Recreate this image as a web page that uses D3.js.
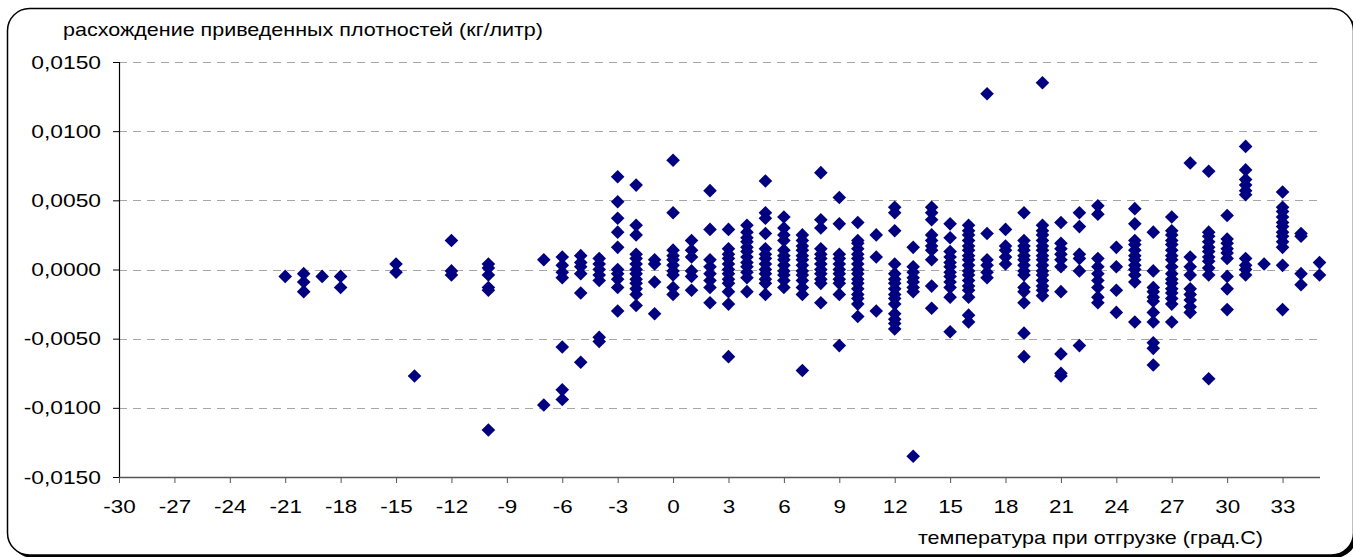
<!DOCTYPE html>
<html>
<head>
<meta charset="utf-8">
<script src="https://cdn.jsdelivr.net/npm/d3@7"></script>
<style>
  body { margin: 0; background: #fff; }
  svg text { font-family: Arial, "Liberation Sans", sans-serif; fill: #000; }
</style>
</head>
<body>
<div id="chart"></div>
<script>
// температура при отгрузке (град.С)
const temps = [-21, -20, -19, -18, -15, -14, -12, -10, -7, -6, -5, -4, -3, -2, -1,
  0, 1, 2, 3, 4, 5, 6, 7, 8, 9, 10, 11, 12, 13, 14, 15, 16, 17, 18, 19, 20,
  21, 22, 23, 24, 25, 26, 27, 28, 29, 30, 31, 32, 33, 34, 35];

// расхождение приведенных плотностей (кг/литр), по столбцам температур
const diffs = [
  [-0.0005],
  [-0.0003, -0.0009, -0.0016],
  [-0.0005],
  [-0.0005, -0.0013],
  [0.0004, -0.0002],
  [-0.0077],
  [0.0021, -0.0001, -0.0004],
  [0.0004, 0.0001, -0.0004, -0.0013, -0.0015, -0.0116],
  [0.0007, -0.0098],
  [0.0009, 0.0003, -0.0002, -0.0006, -0.0056, -0.0087, -0.0094],
  [0.0010, 0.0005, 0.0002, -0.0003, -0.0017, -0.0067],
  [0.0008, 0.0004, 0.0000, -0.0004, -0.0008, -0.0049, -0.0052],
  [0.0067, 0.0049, 0.0037, 0.0027, 0.0016, 0.0000, -0.0003, -0.0007, -0.0013, -0.0030],
  [0.0061, 0.0032, 0.0025, 0.0011, 0.0008, 0.0004, 0.0000, -0.0003, -0.0007, -0.0010, -0.0014, -0.0018, -0.0026],
  [0.0007, 0.0004, -0.0009, -0.0032],
  [0.0079, 0.0041, 0.0014, 0.0010, 0.0007, 0.0003, -0.0001, -0.0004, -0.0013, -0.0018],
  [0.0021, 0.0014, 0.0009, -0.0001, -0.0005, -0.0015],
  [0.0057, 0.0029, 0.0007, 0.0002, -0.0003, -0.0008, -0.0013, -0.0024],
  [0.0029, 0.0015, 0.0011, 0.0008, 0.0004, 0.0000, -0.0003, -0.0007, -0.0010, -0.0016, -0.0025, -0.0063],
  [0.0032, 0.0027, 0.0023, 0.0020, 0.0016, 0.0013, 0.0009, 0.0005, 0.0002, -0.0002, -0.0006, -0.0016],
  [0.0064, 0.0041, 0.0037, 0.0026, 0.0015, 0.0011, 0.0008, 0.0004, 0.0000, -0.0003, -0.0007, -0.0010, -0.0018],
  [0.0038, 0.0030, 0.0025, 0.0021, 0.0014, 0.0010, 0.0007, 0.0003, -0.0001, -0.0004, -0.0008, -0.0013],
  [0.0025, 0.0021, 0.0017, 0.0014, 0.0010, 0.0007, 0.0003, -0.0001, -0.0004, -0.0008, -0.0013, -0.0018, -0.0073],
  [0.0070, 0.0036, 0.0030, 0.0015, 0.0011, 0.0008, 0.0004, 0.0000, -0.0003, -0.0007, -0.0010, -0.0024],
  [0.0052, 0.0033, 0.0011, 0.0008, 0.0004, 0.0000, -0.0003, -0.0007, -0.0010, -0.0018, -0.0055],
  [0.0034, 0.0021, 0.0019, 0.0015, 0.0011, 0.0008, 0.0004, 0.0000, -0.0003, -0.0007, -0.0010, -0.0014, -0.0018, -0.0021, -0.0025, -0.0034],
  [0.0025, 0.0009, -0.0030],
  [0.0045, 0.0041, 0.0028, 0.0004, -0.0003, -0.0007, -0.0010, -0.0014, -0.0018, -0.0021, -0.0025, -0.0032, -0.0036, -0.0039, -0.0043],
  [0.0016, 0.0002, -0.0002, -0.0006, -0.0009, -0.0013, -0.0016, -0.0135],
  [0.0045, 0.0041, 0.0036, 0.0025, 0.0021, 0.0017, 0.0014, 0.0007, -0.0012, -0.0028],
  [0.0033, 0.0023, 0.0013, 0.0009, 0.0005, 0.0002, -0.0002, -0.0005, -0.0009, -0.0013, -0.0020, -0.0045],
  [0.0032, 0.0028, 0.0025, 0.0021, 0.0017, 0.0014, 0.0010, 0.0007, 0.0003, -0.0001, -0.0004, -0.0008, -0.0012, -0.0015, -0.0020, -0.0033, -0.0038],
  [0.0127, 0.0026, 0.0007, 0.0003, -0.0002, -0.0006],
  [0.0029, 0.0017, 0.0014, 0.0009, 0.0004],
  [0.0041, 0.0021, 0.0017, 0.0014, 0.0010, 0.0007, 0.0003, -0.0001, -0.0004, -0.0013, -0.0016, -0.0024, -0.0046, -0.0063],
  [0.0135, 0.0032, 0.0028, 0.0025, 0.0021, 0.0017, 0.0014, 0.0010, 0.0007, 0.0003, -0.0001, -0.0004, -0.0008, -0.0012, -0.0015, -0.0019],
  [0.0034, 0.0019, 0.0015, 0.0011, 0.0007, 0.0002, -0.0016, -0.0061, -0.0075, -0.0077],
  [0.0041, 0.0031, 0.0011, 0.0008, -0.0001, -0.0055],
  [0.0046, 0.0040, 0.0008, 0.0002, -0.0003, -0.0008, -0.0013, -0.0020, -0.0024],
  [0.0016, 0.0002, -0.0015, -0.0031],
  [0.0044, 0.0033, 0.0021, 0.0018, 0.0014, 0.0010, 0.0007, 0.0003, 0.0000, -0.0004, -0.0009, -0.0038],
  [0.0027, -0.0001, -0.0013, -0.0016, -0.0020, -0.0023, -0.0031, -0.0038, -0.0053, -0.0057, -0.0069],
  [0.0038, 0.0028, 0.0025, 0.0021, 0.0018, 0.0014, 0.0010, 0.0007, 0.0002, -0.0003, -0.0007, -0.0010, -0.0014, -0.0017, -0.0021, -0.0025, -0.0038],
  [0.0077, 0.0009, 0.0002, -0.0004, -0.0014, -0.0018, -0.0022, -0.0027, -0.0031],
  [0.0071, 0.0027, 0.0024, 0.0020, 0.0016, 0.0013, 0.0009, 0.0006, 0.0001, -0.0004, -0.0079],
  [0.0039, 0.0022, 0.0019, 0.0015, 0.0012, 0.0008, -0.0005, -0.0014, -0.0029],
  [0.0089, 0.0072, 0.0065, 0.0061, 0.0057, 0.0054, 0.0008, 0.0003, 0.0000, -0.0004],
  [0.0004],
  [0.0056, 0.0045, 0.0042, 0.0038, 0.0034, 0.0031, 0.0027, 0.0024, 0.0020, 0.0016, 0.0003, -0.0029],
  [0.0026, 0.0024, -0.0003, -0.0011],
  [0.0005, -0.0004]
];

const xTicks = d3.range(-30, 34, 3);
const yTicks = d3.range(-0.015, 0.0151, 0.005);

const yTitle = "расхождение приведенных плотностей (кг/литр)";
const xTitle = "температура при отгрузке (град.С)";

const width = 1353, height = 557;
const points = temps.flatMap((t, i) => diffs[i].map(v => ({ t, v })));

const svg = d3.select("#chart").append("svg")
  .attr("width", width)
  .attr("height", height);

// рамка с тенью (правый и нижний край уходят за край картинки)
svg.append("rect")
  .attr("x", 10.5).attr("y", 11.5)
  .attr("width", 1346).attr("height", 546.5)
  .attr("rx", 22)
  .attr("fill", "#000");
svg.append("rect")
  .attr("x", 7.5).attr("y", 8.5)
  .attr("width", 1346).attr("height", 546.5)
  .attr("rx", 22)
  .attr("fill", "#fff")
  .attr("stroke", "#000")
  .attr("stroke-width", 1.5);

const x = d3.scaleLinear().domain([-30, 35]).range([119, 1319.5]);
const y = d3.scaleLinear().domain([-0.015, 0.015]).range([477, 62]);

// растянуть текст по ширине, как в оригинале
function stretch(sel, k) {
  sel.each(function () {
    const w = this.getComputedTextLength();
    d3.select(this).attr("textLength", w * k).attr("lengthAdjust", "spacingAndGlyphs");
  });
}

// сетка
svg.append("g")
  .selectAll("line")
  .data(yTicks.filter(d => d > -0.0149))
  .join("line")
  .attr("x1", x(-30)).attr("x2", x(35))
  .attr("y1", d => Math.round(y(d)) + 0.5)
  .attr("y2", d => Math.round(y(d)) + 0.5)
  .attr("stroke", "#a6a6a6")
  .attr("stroke-width", 1)
  .attr("stroke-dasharray", "8,6");

const fmt = d => d3.format(".4f")(d).replace(".", ",").replace("−", "-");

const yAxis = svg.append("g")
  .attr("transform", `translate(${x(-30)},0)`)
  .call(d3.axisLeft(y).tickValues(yTicks).tickSize(6).tickPadding(12).tickFormat(fmt));
yAxis.select(".domain").attr("stroke", "#000").attr("stroke-width", 1.2);
yAxis.selectAll(".tick line").attr("stroke", "#000");
yAxis.selectAll("text").style("font-size", "19px").attr("fill", "#000").call(stretch, 1.2);

const xAxis = svg.append("g")
  .attr("transform", `translate(0,${y(-0.015)})`)
  .call(d3.axisBottom(x).tickValues(xTicks).tickSize(6).tickSizeOuter(0).tickPadding(17)
    .tickFormat(d => String(d)));
xAxis.select(".domain").attr("stroke", "#555").attr("stroke-width", 1.5);
xAxis.selectAll(".tick line").attr("stroke", "#555");
xAxis.selectAll("text").style("font-size", "19px").attr("fill", "#000").call(stretch, 1.18);

// маркеры-ромбы
const diamond = "M0,-6.8L6.8,0L0,6.8L-6.8,0Z";
svg.append("g")
  .selectAll("path")
  .data(points)
  .join("path")
  .attr("d", diamond)
  .attr("transform", d => `translate(${x(d.t)},${y(d.v)})`)
  .attr("fill", "#000080");

svg.append("text")
  .attr("x", 63).attr("y", 36)
  .style("font-size", "19px")
  .attr("textLength", 480).attr("lengthAdjust", "spacingAndGlyphs")
  .text(yTitle);

svg.append("text")
  .attr("x", 918).attr("y", 544)
  .style("font-size", "19px")
  .attr("textLength", 345).attr("lengthAdjust", "spacingAndGlyphs")
  .text(xTitle);
</script>
</body>
</html>
